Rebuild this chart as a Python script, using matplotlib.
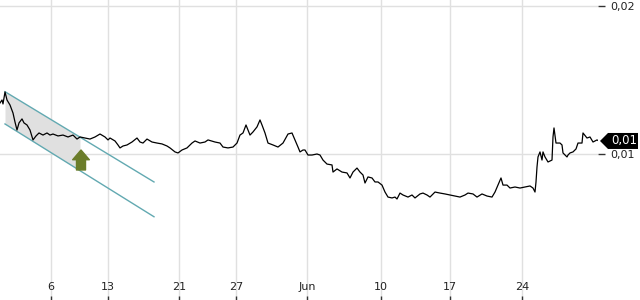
import matplotlib.pyplot as plt
from matplotlib.patches import Polygon
import numpy as np

# time index (one step per chart pixel column) and price readings
x = [0, 2, 3, 5, 7, 10, 13, 15, 17, 19, 22, 24, 27, 30, 33, 36, 39, 43, 47, 50,
     53, 58, 63, 68, 73, 77, 80, 85, 90, 95, 100, 105, 108, 110, 115, 118, 120, 123, 127, 132,
     137, 140, 143, 147, 152, 157, 162, 167, 170, 175, 178, 182, 187, 192, 195, 200, 205, 208, 215, 220,
     223, 228, 233, 237, 240, 243, 246, 248, 250, 253, 257, 260, 262, 265, 268, 273, 278, 283, 288, 292,
     295, 298, 300, 303, 305, 308, 312, 317, 320, 323, 327, 332, 333, 337, 342, 347, 350, 353, 357, 360,
     363, 365, 368, 372, 375, 378, 382, 385, 388, 392, 395, 397, 400, 403, 408, 412, 415, 420, 423, 427,
     430, 435, 440, 445, 450, 455, 460, 465, 468, 473, 477, 482, 487, 492, 495, 498, 501, 503, 507, 510,
     515, 520, 525, 530, 533, 535, 536, 537, 538, 540, 542, 543, 545, 548, 552, 553, 554, 556, 560, 562,
     563, 567, 568, 570, 573, 576, 578, 582, 583, 587, 590, 593, 597, 599]
price = [0.01345, 0.01365, 0.01338, 0.01419, 0.01365, 0.01331, 0.01277, 0.01216, 0.01162, 0.01210,
         0.01237, 0.01210, 0.01196, 0.01162, 0.01095, 0.01122, 0.01142, 0.01128, 0.01142, 0.01128,
         0.01135, 0.01122, 0.01128, 0.01115, 0.01128, 0.01101, 0.01115, 0.01108, 0.01101, 0.01115,
         0.01135, 0.01115, 0.01095, 0.01108, 0.01088, 0.01061, 0.01041, 0.01054, 0.01061, 0.01081,
         0.01108, 0.01081, 0.01074, 0.01101, 0.01081, 0.01074, 0.01068, 0.01054, 0.01041, 0.01014,
         0.01007, 0.01027, 0.01041, 0.01074, 0.01088, 0.01074, 0.01081, 0.01095, 0.01081, 0.01074,
         0.01047, 0.01041, 0.01047, 0.01074, 0.01128, 0.01142, 0.01196, 0.01162, 0.01128, 0.01149,
         0.01183, 0.01230, 0.01196, 0.01142, 0.01074, 0.01061, 0.01047, 0.01074, 0.01135, 0.01142,
         0.01095, 0.01047, 0.01014, 0.01027, 0.01027, 0.00993, 0.00993, 0.01000, 0.00993, 0.00959,
         0.00932, 0.00926, 0.00878, 0.00899, 0.00878, 0.00872, 0.00838, 0.00878, 0.00905, 0.00878,
         0.00858, 0.00804, 0.00845, 0.00838, 0.00811, 0.00811, 0.00790, 0.00743, 0.00709, 0.00703,
         0.00709, 0.00696, 0.00736, 0.00723, 0.00709, 0.00723, 0.00703, 0.00730, 0.00736, 0.00723,
         0.00709, 0.00743, 0.00736, 0.00730, 0.00723, 0.00716, 0.00709, 0.00723, 0.00736, 0.00730,
         0.00709, 0.00730, 0.00716, 0.00709, 0.00743, 0.00790, 0.00838, 0.00790, 0.00790, 0.00770,
         0.00777, 0.00770, 0.00777, 0.00784, 0.00770, 0.00743, 0.00811, 0.00912, 0.00980, 0.01014,
         0.00959, 0.01014, 0.00980, 0.00946, 0.00959, 0.01115, 0.01176, 0.01074, 0.01074, 0.01061,
         0.01007, 0.00980, 0.00993, 0.01007, 0.01014, 0.01034, 0.01074, 0.01074, 0.01142, 0.01108,
         0.01115, 0.01081, 0.01095, 0.01088]

date_ticks = [51, 108, 179, 236, 307, 381, 450, 522]
date_labels = ['6', '13', '21', '27', 'Jun', '10', '17', '24']
price_ticks = [0.01, 0.02]
price_labels = ['0,01', '0,02']

# trend channel drawn on the chart
chan_x = [5, 154]
chan_upper = [0.01421, 0.00811]
chan_lower = [0.01203, 0.00576]
fill_end = 80
arrow_x = 81
arrow_from, arrow_to = 0.00892, 0.01027

fig = plt.figure(figsize=(6.4, 3.0), dpi=100)
ax = fig.add_axes([0, 0, 598 / 640, 1])
ax.set_xlim(0, 598)
ax.set_ylim(0.000135, 0.020405)

for s in ax.spines.values():
    s.set_visible(False)

grid_c = '#e0e0e0'
for t in date_ticks:
    ax.axvline(t, color=grid_c, lw=1, zorder=0)
for p in price_ticks:
    ax.axhline(p, color=grid_c, lw=1, zorder=0)

# channel fill and lines
fx = np.linspace(chan_x[0], fill_end, 20)
ax.fill_between(fx, np.interp(fx, chan_x, chan_lower), np.interp(fx, chan_x, chan_upper),
                color='#e0e0e0', lw=0, zorder=1)
ax.plot(chan_x, chan_upper, color='#62a9b1', lw=1, zorder=2)
ax.plot(chan_x, chan_lower, color='#62a9b1', lw=1, zorder=2)

ax.plot(x, price, color='black', lw=0.9, zorder=3)

ax.annotate('', xy=(arrow_x, arrow_to), xytext=(arrow_x, arrow_from),
            arrowprops=dict(arrowstyle='simple,head_width=1.2,head_length=0.7,tail_width=0.65',
                            color='#6b7d2a', shrinkA=0, shrinkB=0), zorder=4)

ax.set_xticks(date_ticks)
ax.set_xticklabels(date_labels)
ax.tick_params(axis='x', direction='in', length=3, width=1, color='#333333',
               pad=-13, labelsize=8, labelcolor='#222222')
ax.yaxis.tick_right()
ax.set_yticks(price_ticks)
ax.set_yticklabels(price_labels)
ax.tick_params(axis='y', direction='out', length=5, width=1, color='#333333',
               pad=4, labelsize=8, labelcolor='#222222')

# last price tag
tip = ax.transData.transform((598, price[-1]))
tx, ty = tip[0] + 2, tip[1]
pts = [(tx, ty), (tx + 8, ty + 8), (tx + 38, ty + 8), (tx + 38, ty - 8), (tx + 8, ty - 8)]
pts = [(px / 640, py / 300) for px, py in pts]
fig.patches.append(Polygon(pts, closed=True, transform=fig.transFigure,
                           facecolor='black', edgecolor='none'))
fig.text((tx + 24) / 640, ty / 300, '0,01', color='white', fontsize=8.5,
         ha='center', va='center')

fig.savefig('out.png', dpi=100)
